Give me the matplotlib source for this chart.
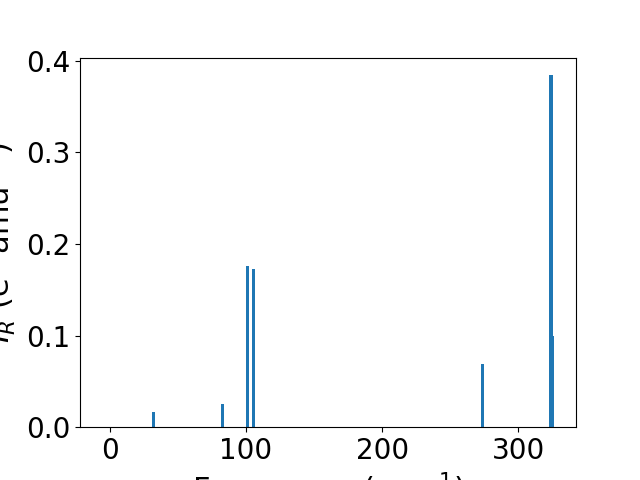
import matplotlib
matplotlib.use("Agg")
import matplotlib.pyplot as plt

# frequencies (cm^-1) and IR intensities
freqs = [32.0, 83.0, 101.0, 105.4, 273.6, 324.0, 325.0]
intensities = [0.0164, 0.025, 0.176, 0.173, 0.069, 0.384, 0.0995]

plt.rcParams['font.size'] = 20

fig, ax = plt.subplots(figsize=(6.4, 4.8), dpi=100)
ax.bar(freqs, intensities, width=2.3, color="#1f77b4")
ax.set_xlim(-21.8, 342.4)
ax.set_xlabel("Frequency (cm$^{-1}$)", fontsize=22)
ax.set_ylabel("$I_R$ (e$^2$ amu$^{-1}$)", fontsize=22, labelpad=6)
ax.set_xticks([0, 100, 200, 300])
ax.set_yticks([0.0, 0.1, 0.2, 0.3, 0.4])

fig.savefig("out.png")
